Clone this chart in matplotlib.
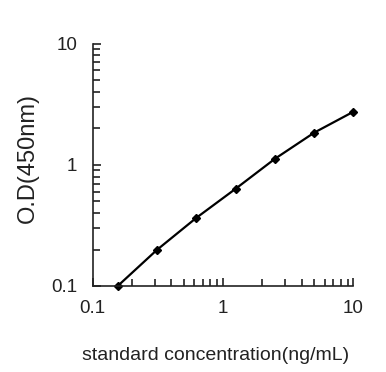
import matplotlib
matplotlib.use("Agg")
import matplotlib.pyplot as plt
from matplotlib.ticker import LogLocator, FixedLocator, FixedFormatter, NullFormatter

plt.rcParams['font.family'] = ['Liberation Sans', 'DejaVu Sans']

concentration = [0.156, 0.3125, 0.625, 1.25, 2.5, 5, 10]
od_values = [0.10, 0.199, 0.365, 0.634, 1.12, 1.84, 2.74]
tick_values = [0.1, 1, 10]
tick_labels = ["0.1", "1", "10"]

W, H = 386, 372
fig = plt.figure(figsize=(W / 100, H / 100), dpi=100)
ax = fig.add_axes([92.5 / W, 1 - 286 / H, (353.5 - 92.5) / W, (286 - 43.5) / H])
ax.plot(concentration, od_values, color='black', lw=1.6, marker='D', ms=4, clip_on=False)
ax.set_xscale('log')
ax.set_yscale('log')
ax.set_xlim(0.1, 10)
ax.set_ylim(0.1, 10)
for s in ['top', 'right']:
    ax.spines[s].set_visible(False)
for s in ['left', 'bottom']:
    ax.spines[s].set_linewidth(1.2)
    ax.spines[s].set_color('#222222')
for axis in (ax.xaxis, ax.yaxis):
    axis.set_major_locator(FixedLocator(tick_values))
    axis.set_major_formatter(FixedFormatter(tick_labels))
    axis.set_minor_locator(LogLocator(base=10, subs=range(2, 10)))
    axis.set_minor_formatter(NullFormatter())
ax.tick_params(which='major', direction='in', length=6, width=1.2, labelsize=13.5, colors='#222222')
ax.tick_params(which='minor', direction='in', length=5, width=1.2, colors='#222222')
ax.tick_params(axis='x', which='major', pad=10)
ax.tick_params(axis='y', which='major', pad=11)
ax.set_xlabel('standard concentration(ng/mL)', fontsize=14, color='#222222')
ax.set_ylabel('O.D(450nm)', fontsize=17, color='#222222')
# label positions in pixel coordinates of the figure
ax.xaxis.set_label_coords(215.5 / W, 1 - 364 / H, transform=fig.transFigure)
ax.xaxis.label.set_va('bottom')
ax.yaxis.set_label_coords(28 / W, 1 - 158 / H, transform=fig.transFigure)
ax.yaxis.label.set_va('center')
fig.savefig('out.png', dpi=100)
